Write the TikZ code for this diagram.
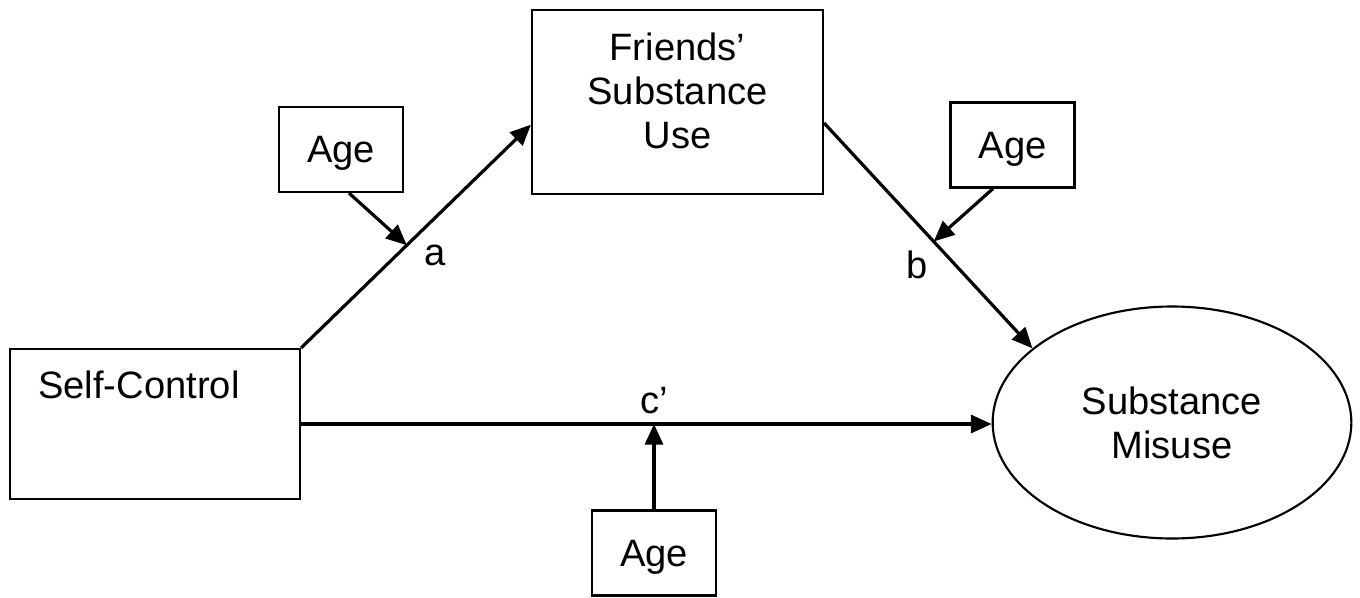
\documentclass[tikz,border=0pt]{standalone}
\usepackage{fontspec}
\setmainfont{Liberation Sans}
\usetikzlibrary{arrows.meta,calc,shapes.geometric}
\begin{document}
\begin{tikzpicture}[x=0.75pt,y=-0.75pt,
  txt/.style={font=\fontsize{28.6}{33}\selectfont},
  box/.style={draw,line width=1.6pt,rectangle,inner sep=0pt,txt},
  agebox/.style={box,minimum width=93pt,minimum height=63.75pt,text depth=0pt},
  arr/.style={line width=2.4pt,-{Triangle[length=15.5pt,width=13.5pt]}},
  lab/.style={txt,inner sep=0pt}]
\useasboundingbox (0,0) rectangle (1360,597);
% main boxes
\node[box,minimum width=217.5pt,minimum height=112.5pt] (sc) at (155,424) {};
\node[lab,anchor=base west] (sctext) at (38,398) {Self-Control};
\node[box,minimum width=218.25pt,minimum height=138pt,
  label={[txt,align=center,inner sep=0pt,yshift=8pt]center:Friends’\\Substance\\Use}] (fsu) at (677.5,102) {};
\node[draw,ellipse,line width=1.6pt,inner sep=0pt,minimum width=269pt,minimum height=174pt,txt,align=center] (sm) at (1172,422.5) {Substance\\Misuse};
% age boxes
\node[agebox] (age1) at (341,149.5) {Age};
\node[agebox] (age2) at (1012.5,145) {Age};
\node[agebox] (age3) at (654,553) {Age};
% path a
\coordinate (fa) at ([yshift=-17pt]fsu.west);
\draw[arr] (sc.north east) -- (fa);
\coordinate (ma) at ($(sc.north east)!0.46!(fa)$);
\draw[arr] ([xshift=6pt]age1.south) -- (ma);
\node[lab] (la) at (435,255) {a};
% path b
\coordinate (fb) at ([yshift=-15.75pt]fsu.east);
\draw[arr] (fb) -- (sm.152);
\coordinate (mb) at ($(fb)!0.526!(sm.152)$);
\draw[arr] ([xshift=-14.6pt]age2.south) -- (mb);
\node[lab] (lb) at (917,265) {b};
% path c'
\draw[arr] (sc.east) -- (sc.east -| sm.west);
\draw[arr] (age3.north) -- (age3.north |- sc.east);
\node[lab] (lc) at (654,401) {c’};
\end{tikzpicture}
\end{document}
